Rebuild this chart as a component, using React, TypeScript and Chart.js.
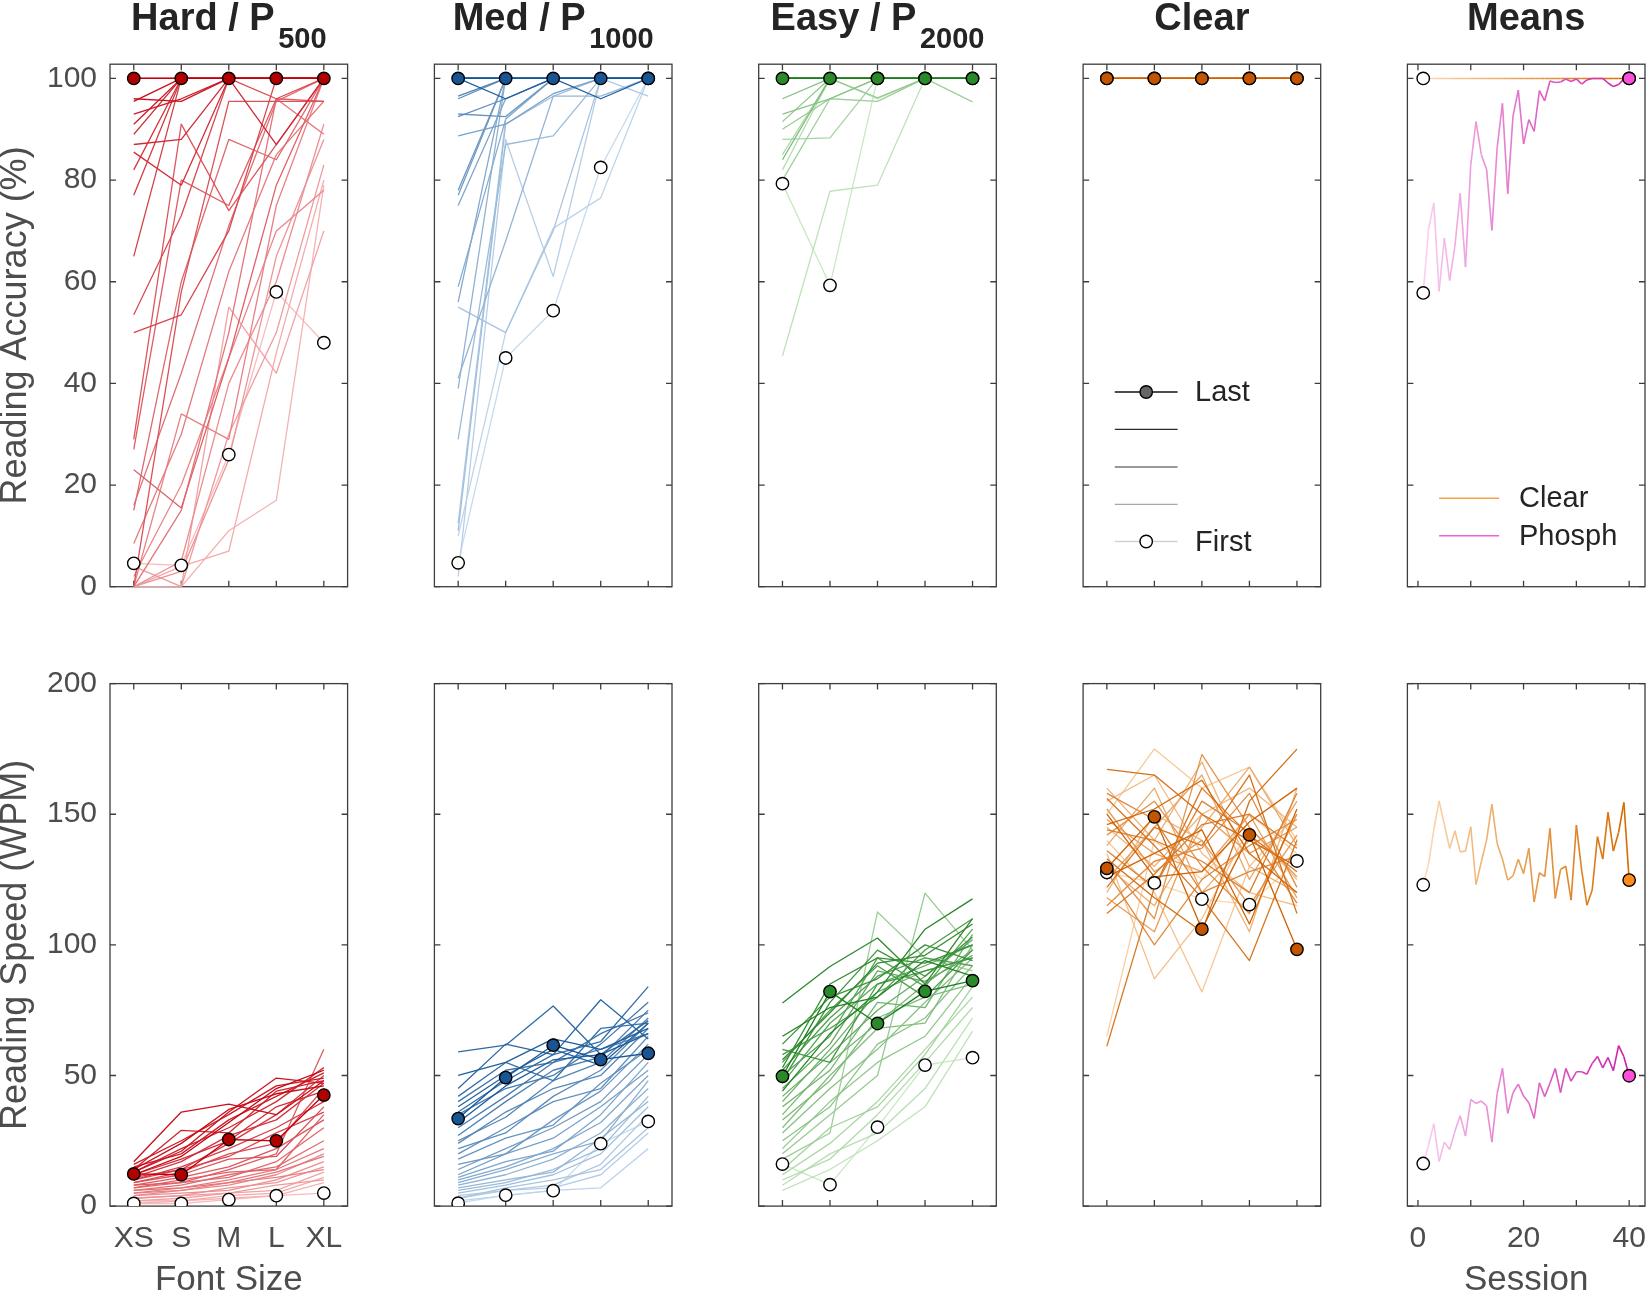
import React, { useEffect, useRef } from 'react';
import { Chart, registerables } from 'chart.js';

Chart.register(...registerables);

const PAGE_W = 1646;
const PAGE_H = 1294;
const FONT = '"Liberation Sans", Arial, Helvetica, sans-serif';

// ---------- tick labels ----------
const fontSizes = ['XS', 'S', 'M', 'L', 'XL'];
const accuracyTicks = [0, 20, 40, 60, 80, 100];
const speedTicks = [0, 50, 100, 150, 200];
const sessionTicks = [0, 10, 20, 30, 40];
const sessionTickLabels = ['0', '', '20', '', '40'];

// ---------- data: one row per session (first -> last), columns XS..XL ----------
const hardAccuracy = [
  [4.6, 4.2, 26, 58, 48],
  [0, 0, 11, 17, 79],
  [0, 4, 7, 46, 80],
  [0, 0, 55, 42, 70],
  [4, 0, 30, 50, 83],
  [0, 3, 25, 65, 88],
  [0, 5, 40, 60, 91],
  [2, 20, 45, 70, 78],
  [0, 34, 29, 75, 100],
  [8.5, 30, 62, 85, 95.5],
  [0, 15, 50, 96, 89],
  [16, 42, 71, 95.5, 100],
  [15, 60, 88, 84, 100],
  [23, 15.5, 45, 79, 100],
  [27, 80, 75, 96, 95.5],
  [29, 91, 74, 87, 100],
  [0, 58, 95.5, 95.5, 95.5],
  [53.5, 73, 100, 96, 100],
  [50, 53.5, 70, 100, 100],
  [65, 100, 100, 100, 100],
  [77, 100, 100, 100, 100],
  [82, 100, 100, 100, 100],
  [85.5, 79, 100, 100, 100],
  [87, 88, 100, 87, 100],
  [89, 100, 100, 100, 100],
  [91, 100, 100, 100, 100],
  [93, 96, 100, 100, 100],
  [96, 95.5, 100, 100, 100],
  [95.5, 100, 100, 100, 100],
  [100, 100, 100, 100, 100],
  [100, 100, 100, 100, 100],
  [100, 100, 100, 100, 100],
];

const medAccuracy = [
  [4.7, 45, 54.3, 82.5, 100],
  [10, 50, 70.5, 76.5, 100],
  [2, 88, 61, 100, 100],
  [12.5, 92, 100, 100, 96.5],
  [55, 50, 70, 100, 100],
  [11, 91, 96.5, 100, 100],
  [29, 87, 88.7, 100, 100],
  [41, 68, 96.5, 96.5, 100],
  [39, 100, 100, 100, 100],
  [59, 92, 100, 100, 100],
  [56, 100, 100, 100, 100],
  [75, 96, 100, 100, 100],
  [88.7, 91, 97, 100, 100],
  [77, 100, 100, 100, 100],
  [78, 100, 100, 100, 100],
  [93, 92.5, 100, 100, 100],
  [92.5, 96, 100, 100, 100],
  [96, 100, 100, 100, 100],
  [100, 100, 100, 100, 100],
  [96.5, 100, 100, 100, 100],
  [100, 100, 100, 100, 100],
  [100, 100, 100, 100, 100],
  [100, 100, 100, 100, 100],
  [100, 100, 100, 100, 100],
  [100, 100, 100, 100, 100],
  [100, 100, 100, 100, 100],
  [100, 100, 100, 100, 100],
  [100, 100, 100, 100, 100],
  [100, 100, 100, 100, 100],
  [100, 96, 100, 96, 100],
  [100, 100, 100, 100, 100],
  [100, 100, 100, 100, 100],
];

const easyAccuracy = [
  [79.3, 59.3, 100, 100, 100],
  [45.4, 77.8, 79, 100, 100],
  [82, 100, 96, 100, 100],
  [85, 100, 100, 100, 100],
  [88, 88.3, 100, 100, 100],
  [80, 96, 95.5, 100, 95.4],
  [90, 96, 100, 100, 100],
  [91.5, 100, 96.2, 100, 100],
  [93, 96, 100, 100, 100],
  [96, 100, 100, 100, 100],
  [84, 100, 100, 100, 100],
  [100, 100, 100, 100, 100],
  [100, 100, 100, 100, 100],
  [100, 100, 100, 100, 100],
  [100, 100, 100, 100, 100],
  [100, 100, 100, 100, 100],
  [100, 100, 100, 100, 100],
  [100, 100, 100, 100, 100],
  [100, 100, 100, 100, 100],
  [100, 100, 100, 100, 100],
  [100, 100, 100, 100, 100],
  [100, 100, 100, 100, 100],
  [100, 100, 100, 100, 100],
  [100, 100, 100, 100, 100],
  [100, 100, 100, 100, 100],
  [100, 100, 100, 100, 100],
  [100, 100, 100, 100, 100],
  [100, 100, 100, 100, 100],
];

const clearAccuracy = [
  [100, 100, 100, 100, 100],
  [100, 100, 100, 100, 100],
  [100, 100, 100, 100, 100],
  [100, 100, 100, 100, 100],
  [100, 100, 100, 100, 100],
  [100, 100, 100, 100, 100],
  [100, 100, 100, 100, 100],
  [100, 100, 100, 100, 100],
  [100, 100, 100, 100, 100],
  [100, 100, 100, 100, 100],
  [100, 100, 100, 100, 100],
  [100, 100, 100, 100, 100],
];

const hardSpeed = [
  [1, 1, 2.5, 4, 5],
  [1, 2, 3, 4, 9],
  [2, 2, 4, 5, 11],
  [2, 3, 5, 6, 13],
  [3, 4, 5, 8, 10],
  [3, 4, 7, 9, 15],
  [4, 5, 6, 10, 17],
  [4, 6, 8, 12, 20],
  [5, 6, 9, 11, 14],
  [5, 7, 10, 14, 22],
  [6, 7, 9, 13, 19],
  [6, 8, 12, 15, 25],
  [7, 9, 11, 17, 30],
  [7, 10, 13, 14, 35],
  [8, 9, 14, 20, 60],
  [8, 11, 15, 22, 33],
  [9, 12, 18, 19, 38],
  [9, 13, 20, 24, 45],
  [10, 14, 19, 28, 36],
  [10, 15, 22, 30, 40],
  [11, 14, 24, 35, 50],
  [11, 17, 27, 33, 47],
  [12, 18, 25, 38, 44],
  [13, 22, 30, 40, 53],
  [14, 29, 28, 44, 48],
  [15, 20, 33, 42, 51],
  [16, 25, 35, 46, 49],
  [13, 21, 36, 49, 47],
  [17, 36, 39, 35, 48],
  [14, 24, 37, 43, 46],
  [12, 19, 32, 45, 52],
  [12.3, 12, 25.5, 25, 42.5],
];

const medSpeed = [
  [1.1, 4.2, 5.9, 23.9, 32.4],
  [2, 4, 6, 7, 22],
  [3, 6, 7, 12, 28],
  [4, 6, 8, 16, 35],
  [3, 7, 10, 14, 30],
  [5, 8, 12, 20, 38],
  [6, 9, 14, 22, 42],
  [7, 10, 13, 26, 40],
  [8, 12, 18, 28, 45],
  [9, 14, 20, 25, 48],
  [10, 15, 22, 32, 50],
  [11, 17, 21, 35, 55],
  [12, 20, 26, 38, 52],
  [14, 22, 30, 40, 58],
  [16, 20, 33, 44, 62],
  [18, 26, 31, 47, 60],
  [20, 30, 40, 45, 65],
  [22, 28, 42, 52, 70],
  [24, 36, 45, 50, 68],
  [25, 34, 48, 55, 72],
  [27, 40, 52, 57, 75],
  [30, 42, 55, 60, 66],
  [35, 45, 50, 62, 78],
  [40, 52, 55, 66, 74],
  [42, 55, 48, 68, 70],
  [36, 48, 58, 63, 84],
  [59, 61.6, 76.6, 58, 71],
  [45, 62, 58, 79, 64],
  [38, 50, 60, 54, 70],
  [50, 55, 64, 60, 68],
  [32, 46, 56, 58, 66],
  [33.5, 49.2, 61.6, 56.1, 58.5],
];

const easySpeed = [
  [16.1, 8.2, 30.2, 54, 56.8],
  [6, 14, 25, 38, 67],
  [8, 20, 28, 45, 72],
  [10, 18, 35, 55, 76],
  [12, 24, 40, 60, 80],
  [14, 30, 38, 58, 84],
  [18, 28, 112.6, 95, 90],
  [20, 35, 50, 119.8, 98],
  [22, 40, 55, 65, 88],
  [25, 38, 62, 72, 92],
  [28, 45, 60, 78, 95],
  [30, 50, 68, 70, 100],
  [33, 48, 72, 80, 85],
  [35, 55, 70, 85, 98],
  [38, 52, 78, 76, 104],
  [40, 60, 82, 90, 95],
  [42, 58, 75, 88, 102],
  [45, 62, 90, 86, 96],
  [47, 70, 85, 92, 100],
  [50, 65, 95, 84, 106],
  [52, 72, 88, 95, 92],
  [55, 75, 92, 80, 98],
  [58, 68, 80, 98, 110],
  [60, 55, 85, 90, 95],
  [48, 78, 98, 88, 103],
  [62, 80, 87, 100, 94],
  [53, 85, 95, 93, 100],
  [56, 74, 93, 96, 108],
  [77.7, 91.7, 102.6, 85, 110],
  [44, 66, 82, 106, 117.6],
  [65, 76, 80, 94, 88],
  [49.7, 82.1, 69.9, 82.2, 86.3],
];

const clearSpeed = [
  [127.7, 123.7, 117.5, 115.4, 132.1],
  [65, 140, 125, 150, 135],
  [150, 175, 160, 168, 140],
  [140, 120, 82, 130, 150],
  [135, 87, 110, 145, 125],
  [155, 165, 135, 120, 115],
  [145, 130, 150, 160, 145],
  [120, 150, 140, 105, 160],
  [160, 140, 170, 130, 120],
  [130, 115, 145, 168, 138],
  [138, 160, 120, 140, 130],
  [125, 145, 165, 125, 155],
  [148, 135, 128, 150, 118],
  [118, 105, 150, 135, 145],
  [152, 128, 140, 115, 142],
  [132, 110, 172.9, 145, 126],
  [142, 155, 130, 112, 150],
  [115, 132, 137, 158, 122],
  [128, 100, 125, 138, 148],
  [158, 148, 120, 128, 134],
  [136, 122, 155, 143, 116],
  [144, 140, 132, 120, 158],
  [112, 127, 146, 150, 137],
  [61.2, 122, 160, 142, 128],
  [156, 138, 118, 94, 140],
  [122, 145, 138, 165, 112],
  [167.2, 165, 150, 140, 130],
  [133, 118, 105, 155, 174.9],
  [146, 152, 163, 135, 120],
  [126, 135, 144, 108, 152],
  [150, 126, 128, 147, 160],
  [129.3, 149, 106, 142.1, 98.3],
];

// ---------- means per session (1..40) ----------
const meansClearAccuracy = [
  100, 100, 100, 100, 100, 100, 100, 100, 100, 100,
  100, 100, 100, 100, 100, 100, 100, 100, 100, 100,
  100, 100, 100, 100, 100, 100, 100, 100, 100, 100,
  100, 100, 100, 100, 100, 100, 100, 100, 100, 100,
];
const meansPhosphAccuracy = [
  57.8, 70.3, 75.5, 58.1, 68.6, 60.2, 67, 77.4, 62.9, 83.1,
  91.5, 85, 82.1, 70.1, 86.4, 95.1, 77.3, 92.6, 97.7, 87.1,
  91.9, 89.6, 97.6, 95.6, 99.5, 99.2, 99.3, 99.9, 99.4, 99.9,
  98.9, 99.7, 100, 100, 100, 99.1, 98.4, 98.8, 99.9, 100,
];
const meansClearSpeed = [
  123, 131, 144, 155.1, 146, 136.9, 143.7, 135.6, 135.9, 145.2,
  123.1, 131.8, 140.1, 153.9, 138.8, 132.8, 124.8, 126.4, 132.8, 127.3,
  136.9, 116.4, 127.6, 126.1, 144.6, 117.8, 128.9, 130.1, 117.1, 145.8,
  128.6, 115.2, 121, 141.4, 132.8, 150.7, 135.9, 143, 154.5, 124.8,
];
const meansPhosphSpeed = [
  16.3, 23.3, 31.5, 17.1, 24.5, 21.7, 28.7, 34.6, 26.8, 40.8,
  39.3, 40.2, 38.3, 24.5, 43.1, 52.7, 35.5, 43.4, 46.7, 42.1,
  39.6, 33.6, 47.2, 41.9, 47, 52.7, 43.5, 52.7, 47.8, 51.4,
  51.4, 50.5, 54.6, 57.3, 52.9, 56.9, 51.8, 61.4, 57.2, 49.9,
];

// ---------- styles ----------
type Rgb = [number, number, number];
type Palette = { light: Rgb; dark: Rgb; marker: string };
const HARD: Palette = { light: [248, 188, 188], dark: [196, 0, 14], marker: '#b00000' };
const MED: Palette = { light: [198, 219, 239], dark: [24, 88, 152], marker: '#185592' };
const EASY: Palette = { light: [200, 233, 194], dark: [30, 128, 30], marker: '#2a8a2a' };
const CLEAR: Palette = { light: [253, 212, 170], dark: [206, 96, 0], marker: '#c45500' };
const MEAN_CLEAR: Palette = { light: [253, 218, 182], dark: [214, 108, 0], marker: '#ff8c1a' };
const MEAN_PHOSPH: Palette = { light: [250, 208, 240], dark: [206, 32, 168], marker: '#ff4fd8' };

const mix = (a: Rgb, b: Rgb, t: number) => {
  const u = Math.pow(Math.min(Math.max(t, 0), 1), 0.85);
  return `rgb(${a.map((v, i) => Math.round(v + (b[i] - v) * u)).join(',')})`;
};

const COL_LEFT = [110, 434.4, 758.7, 1083.1, 1407.4];
const ROW_TOP = [64.2, 683.6];
const PANEL_W = 237.6;
const PANEL_H = 522.5;
const ACC_MAX = 102.8;

const TICK_COLOR = '#4d4d4d';
const AXIS_COLOR = '#3d3d3d';
const TEXT_DARK = '#242424';

interface MeanSeries { values: number[]; palette: Palette }
interface Spec {
  id: string;
  row: number;
  col: number;
  sessions?: number[][];
  palette?: Palette;
  means?: MeanSeries[];
  title?: [string, string?];
  yTitle?: string;
  xTitle?: string;
  showXLabels?: boolean;
  legend?: 'sessions' | 'means';
}

const panels: Spec[] = [
  { id: 'ha', row: 0, col: 0, sessions: hardAccuracy, palette: HARD, title: ['Hard / P', '500'], yTitle: 'Reading Accuracy (%)' },
  { id: 'ma', row: 0, col: 1, sessions: medAccuracy, palette: MED, title: ['Med / P', '1000'] },
  { id: 'ea', row: 0, col: 2, sessions: easyAccuracy, palette: EASY, title: ['Easy / P', '2000'] },
  { id: 'ca', row: 0, col: 3, sessions: clearAccuracy, palette: CLEAR, title: ['Clear'], legend: 'sessions' },
  {
    id: 'mna', row: 0, col: 4, title: ['Means'], legend: 'means',
    means: [{ values: meansClearAccuracy, palette: MEAN_CLEAR }, { values: meansPhosphAccuracy, palette: MEAN_PHOSPH }],
  },
  { id: 'hs', row: 1, col: 0, sessions: hardSpeed, palette: HARD, yTitle: 'Reading Speed (WPM)', xTitle: 'Font Size', showXLabels: true },
  { id: 'ms', row: 1, col: 1, sessions: medSpeed, palette: MED },
  { id: 'es', row: 1, col: 2, sessions: easySpeed, palette: EASY },
  { id: 'cs', row: 1, col: 3, sessions: clearSpeed, palette: CLEAR },
  {
    id: 'mns', row: 1, col: 4, xTitle: 'Session', showXLabels: true,
    means: [{ values: meansClearSpeed, palette: MEAN_CLEAR }, { values: meansPhosphSpeed, palette: MEAN_PHOSPH }],
  },
];

const markerDs = (data: { x: number; y: number }[], fill: string, order: number) => ({
  data,
  showLine: false,
  pointRadius: 6.2,
  pointBorderWidth: 1.4,
  pointBackgroundColor: fill,
  pointBorderColor: '#000000',
  order,
});

const framePlugin = {
  id: 'frame',
  beforeDatasetsDraw(chart: any) {
    const { ctx, chartArea: a, scales } = chart;
    const x = scales.x;
    const y = scales.y;
    ctx.save();
    ctx.strokeStyle = AXIS_COLOR;
    ctx.lineWidth = 1.3;
    ctx.strokeRect(a.left, a.top, a.right - a.left, a.bottom - a.top);
    const tl = 6;
    ctx.beginPath();
    for (const t of x.ticks) {
      const px = x.getPixelForValue(t.value);
      ctx.moveTo(px, a.bottom);
      ctx.lineTo(px, a.bottom - tl);
      ctx.moveTo(px, a.top);
      ctx.lineTo(px, a.top + tl);
    }
    for (const t of y.ticks) {
      const py = y.getPixelForValue(t.value);
      ctx.moveTo(a.left, py);
      ctx.lineTo(a.left + tl, py);
      ctx.moveTo(a.right, py);
      ctx.lineTo(a.right - tl, py);
    }
    ctx.stroke();
    ctx.restore();
  },
};

const makeTitlePlugin = (spec: Spec) => ({
  id: 'panelTitle',
  afterDraw(chart: any) {
    if (!spec.title) return;
    const { ctx, chartArea: a } = chart;
    const [main, sub] = spec.title;
    ctx.save();
    ctx.fillStyle = TEXT_DARK;
    ctx.textBaseline = 'alphabetic';
    ctx.textAlign = 'left';
    ctx.font = `bold 38px ${FONT}`;
    const w1 = ctx.measureText(main).width;
    ctx.font = `bold 29px ${FONT}`;
    const gap = 3.5;
    const w2 = sub ? ctx.measureText(sub).width + gap : 0;
    const cx = (a.left + a.right) / 2;
    const x0 = cx - (w1 + w2) / 2;
    ctx.font = `bold 38px ${FONT}`;
    ctx.fillText(main, x0, a.top - 34.2);
    if (sub) {
      ctx.font = `bold 29px ${FONT}`;
      ctx.fillText(sub, x0 + w1 + gap, a.top - 16);
    }
    ctx.restore();
  },
});

const sessionLegend = [
  { dy: 327.8, line: '#111111', marker: '#666666', label: 'Last' },
  { dy: 365.2, line: '#2a2a2a' },
  { dy: 402.8, line: '#777777' },
  { dy: 440.2, line: '#a8a8a8' },
  { dy: 477.3, line: '#d2d2d2', marker: '#ffffff', label: 'First' },
];
const meansLegend = [
  { dy: 434.1, line: '#f6a250', label: 'Clear' },
  { dy: 471.6, line: '#f45cde', label: 'Phosph' },
];

const makeLegendPlugin = (spec: Spec) => ({
  id: 'panelLegend',
  afterDraw(chart: any) {
    if (!spec.legend) return;
    const { ctx, chartArea: a } = chart;
    const items: any[] = spec.legend === 'sessions' ? sessionLegend : meansLegend;
    ctx.save();
    ctx.font = `29px ${FONT}`;
    ctx.textBaseline = 'middle';
    ctx.textAlign = 'left';
    for (const it of items) {
      const y = a.top + it.dy;
      const x1 = a.left + 31.7;
      const x2 = a.left + (spec.legend === 'sessions' ? 94.5 : 91.7);
      ctx.strokeStyle = it.line;
      ctx.lineWidth = 1.4;
      ctx.beginPath();
      ctx.moveTo(x1, y);
      ctx.lineTo(x2, y);
      ctx.stroke();
      if (it.marker) {
        ctx.beginPath();
        ctx.arc((x1 + x2) / 2, y, 6.2, 0, Math.PI * 2);
        ctx.fillStyle = it.marker;
        ctx.fill();
        ctx.strokeStyle = '#000';
        ctx.lineWidth = 1.4;
        ctx.stroke();
      }
      if (it.label) {
        ctx.fillStyle = TEXT_DARK;
        ctx.fillText(it.label, a.left + (spec.legend === 'sessions' ? 112 : 111.6), y + 1);
      }
    }
    ctx.restore();
  },
});

function buildConfig(spec: Spec): any {
  const L = COL_LEFT[spec.col];
  const R = L + PANEL_W;
  const T = ROW_TOP[spec.row];
  const B = T + PANEL_H;
  const isMeans = !!spec.means;
  const xTickVals = isMeans ? sessionTicks : [1, 2, 3, 4, 5];
  const yTickVals = spec.row === 0 ? accuracyTicks : speedTicks;
  const yMax = spec.row === 0 ? ACC_MAX : 200;

  const datasets: any[] = [];
  if (spec.sessions && spec.palette) {
    const pal = spec.palette;
    const n = spec.sessions.length;
    const first = spec.sessions[0];
    const last = spec.sessions[n - 1];
    datasets.push(markerDs(last.map((v, i) => ({ x: i + 1, y: v })), pal.marker, 0));
    datasets.push(markerDs(first.map((v, i) => ({ x: i + 1, y: v })), '#ffffff', 1));
    spec.sessions.forEach((row, i) => {
      datasets.push({
        data: row.map((v, j) => ({ x: j + 1, y: v })),
        showLine: true,
        pointRadius: 0,
        borderWidth: 1.3,
        borderJoinStyle: 'round',
        borderColor: mix(pal.light, pal.dark, n > 1 ? i / (n - 1) : 1),
        order: 2 + (n - 1 - i),
      });
    });
  }
  if (spec.means) {
    spec.means.forEach((m, k) => {
      const vals = m.values;
      const n = vals.length;
      const pts = vals.map((v, i) => ({ x: i + 1, y: v }));
      datasets.push(markerDs([pts[n - 1]], m.palette.marker, 1 - k));
      datasets.push(markerDs([pts[0]], '#ffffff', 3 - k));
      datasets.push({
        data: pts,
        showLine: true,
        pointRadius: 0,
        borderWidth: 1.6,
        borderJoinStyle: 'round',
        borderColor: mix(m.palette.light, m.palette.dark, 1),
        segment: {
          borderColor: (c: any) => mix(m.palette.light, m.palette.dark, c.p0DataIndex / (n - 2)),
        },
        order: 5 - k,
      });
    });
  }

  const zeroPad = (s: any) => {
    s.paddingLeft = 0;
    s.paddingRight = 0;
    s.paddingTop = 0;
    s.paddingBottom = 0;
  };

  return {
    type: 'scatter',
    data: { datasets },
    options: {
      animation: false,
      responsive: false,
      events: [],
      layout: { autoPadding: false, padding: { left: 0, top: T, right: PAGE_W - R, bottom: 0 } },
      plugins: {
        legend: { display: false },
        tooltip: { enabled: false },
        title: { display: false },
      },
      scales: {
        x: {
          type: 'linear',
          min: isMeans ? -2 : 0.5,
          max: isMeans ? 43 : 5.5,
          afterBuildTicks: (s: any) => {
            s.ticks = xTickVals.map((v) => ({ value: v }));
          },
          afterFit: (s: any) => {
            s.height = PAGE_H - B;
            zeroPad(s);
          },
          ticks: {
            display: !!spec.showXLabels,
            autoSkip: false,
            maxRotation: 0,
            minRotation: 0,
            padding: 14.5,
            color: TICK_COLOR,
            font: { family: FONT, size: 30, lineHeight: 1.2 },
            callback: (_v: any, idx: number) => (isMeans ? sessionTickLabels[idx] : fontSizes[idx]),
          },
          grid: { display: false, drawTicks: false },
          border: { display: false },
          title: {
            display: !!spec.xTitle,
            text: spec.xTitle || '',
            color: TICK_COLOR,
            padding: 0,
            font: { family: FONT, size: 35, lineHeight: 0.76 },
          },
        },
        y: {
          type: 'linear',
          min: 0,
          max: yMax,
          afterBuildTicks: (s: any) => {
            s.ticks = yTickVals.map((v) => ({ value: v }));
          },
          afterFit: (s: any) => {
            s.width = L;
            zeroPad(s);
          },
          ticks: {
            display: spec.col === 0,
            autoSkip: false,
            padding: 13,
            color: TICK_COLOR,
            font: { family: FONT, size: 30, lineHeight: 1.2 },
            callback: (v: any) => String(v),
          },
          grid: { display: false, drawTicks: false },
          border: { display: false },
          title: {
            display: !!spec.yTitle,
            text: spec.yTitle || '',
            color: TICK_COLOR,
            padding: 0,
            font: { family: FONT, size: 36, lineHeight: 0.92 },
          },
        },
      },
    },
    plugins: [framePlugin, makeTitlePlugin(spec), makeLegendPlugin(spec)],
  };
}

function Panel({ spec }: { spec: Spec }) {
  const ref = useRef<HTMLCanvasElement>(null);
  useEffect(() => {
    if (!ref.current) return;
    const chart = new Chart(ref.current, buildConfig(spec));
    return () => chart.destroy();
  }, [spec]);
  return (
    <canvas
      ref={ref}
      width={PAGE_W}
      height={PAGE_H}
      style={{ position: 'absolute', left: 0, top: 0, width: PAGE_W, height: PAGE_H, pointerEvents: 'none' }}
    />
  );
}

export default function App() {
  return (
    <div
      style={{
        position: 'absolute',
        left: 0,
        top: 0,
        width: PAGE_W,
        height: PAGE_H,
        overflow: 'hidden',
        background: '#ffffff',
      }}
    >
      {panels.map((p) => (
        <Panel key={p.id} spec={p} />
      ))}
    </div>
  );
}
